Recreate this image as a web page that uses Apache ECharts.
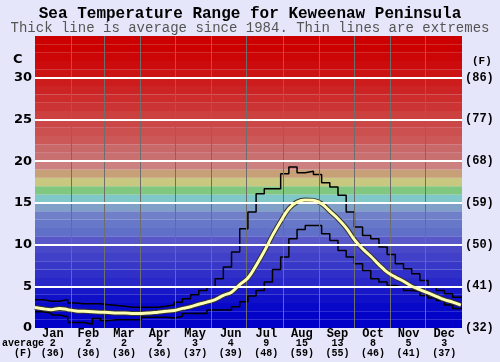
<!DOCTYPE html>
<html><head><meta charset="utf-8">
<script src="https://cdn.jsdelivr.net/npm/echarts@6/dist/echarts.min.js"></script>
<style>html,body{margin:0;padding:0;background:#e6e6fa;}#c{width:500px;height:362px;}</style>
</head><body><div id="c"></div>
<script>
const months = ['Jan','Feb','Mar','Apr','May','Jun','Jul','Aug','Sep','Oct','Nov','Dec'];
const monthAvgC = [2,2,2,2,3,4,9,15,13,8,5,3];
const monthAvgF = [36,36,36,36,37,39,48,59,55,46,41,37];
const monthBoundaryDays = [31,59,90,120,151,181,212,243,273,304,334];
const gridLineValuesC = [5,10,15,20,25,30];
const rightTickLabelsF = ['(32)','(41)','(50)','(59)','(68)','(77)','(86)'];

// weekly extremes (°C), one value per week starting Jan 1
const weeklyMax = [3.4,3.2,3.2,3.4,3.0,2.9,2.9,2.9,2.8,2.7,2.6,2.5,2.5,2.5,2.5,2.6,
  2.75,3.1,3.5,4.0,4.5,4.9,5.9,7.3,9.1,11.9,13.9,16.1,16.7,16.7,18.5,19.3,18.6,18.8,18.4,17.4,
  16.9,15.9,13.9,12.1,11.1,10.7,9.7,8.8,7.7,7.1,6.5,5.7,4.9,4.5,4.1,3.7];
const weeklyMin = [1.95,1.8,1.55,1.35,0.65,0.65,0.45,1.15,0.9,1.0,1.0,1.0,1.0,1.3,1.3,1.3,
  1.2,1.4,1.75,1.75,1.75,2.15,2.15,2.15,2.55,3.15,3.85,4.5,5.5,7.0,8.5,10.7,11.8,12.3,12.3,11.3,
  10.5,9.3,8.5,7.7,6.9,5.9,5.5,5.1,4.9,4.5,4.4,3.9,3.6,3.3,2.75,2.35];
// average (°C) sampled every 7 days from Jan 1
const weeklyAvg = [2.45,2.3,2.2,2.35,2.2,2.05,2.0,1.95,1.9,1.85,1.8,1.8,1.75,1.75,1.8,1.9,
  2.0,2.1,2.35,2.55,2.85,3.1,3.4,3.9,4.3,5.2,6.0,7.5,9.2,11.1,12.8,14.3,15.1,15.35,15.3,14.9,
  14.0,13.1,12.0,10.6,9.5,8.6,7.6,6.7,6.1,5.6,5.0,4.6,4.2,3.8,3.4,3.1,2.75];

// background band colours, from 0-1°C up to 34-35°C
const bandColors = ['#0000c8','#0404c8','#0808c8','#1010c8','#1818c8',
  '#2828c8','#3030c8','#3838c8','#4040c8','#4848c8',
  '#5858c8','#6070c8','#6878c8','#7080c8','#80a0c8',
  '#80c8c8','#80c880','#c8c880','#c8a078','#cc8080',
  '#c87070','#c86868','#cc5858','#cc5050','#cc4848',
  '#cc4040','#cc3434','#cc2c2c','#cc2424','#cc1c1c',
  '#cc1414','#cc0c0c','#cc0606','#cc0000','#cc0000'];

const stepData = arr => arr.map((v,i)=>[i*7,v]).concat([[365, arr[arr.length-1]]]);
const avgData = weeklyAvg.map((v,i)=>[i*7,v]);

const chart = echarts.init(document.getElementById('c'), null, {renderer:'canvas'});
const mono = 'Liberation Mono';
chart.setOption({
  animation:false,
  backgroundColor:'#e6e6fa',
  title:[{text:'Sea Temperature Range for Keweenaw Peninsula', left:'center', top:1,
    textStyle:{fontFamily:mono, fontWeight:'bold', fontSize:16, color:'#000'}},
    {text:'Thick line is average since 1984. Thin lines are extremes', left:'center', top:16,
    textStyle:{fontFamily:mono, fontWeight:'normal', fontSize:14, color:'#555'}}],
  grid:{left:35, right:38, top:36, bottom:34},
  xAxis:[{type:'value', min:0, max:365, show:false},
    {type:'category', data:months, position:'bottom', axisLine:{show:false}, axisTick:{show:false},
     splitLine:{show:false},
     axisLabel:{interval:0, margin:1, color:'#000',
       formatter:(v,i)=>'{m|'+v+'}\n{a|'+monthAvgC[i]+'}\n{f|('+monthAvgF[i]+')}',
       rich:{m:{fontFamily:mono, fontWeight:'bold', fontSize:12, lineHeight:10, color:'#000'},
             a:{fontFamily:mono, fontWeight:'bold', fontSize:10, lineHeight:9, color:'#000'},
             f:{fontFamily:mono, fontWeight:'bold', fontSize:10, lineHeight:10, color:'#000'}}}}],
  yAxis:[{type:'value', min:0, max:35, interval:5, position:'left', axisLine:{show:false}, axisTick:{show:false},
     splitLine:{show:false},
     axisLabel:{formatter:v=>v===35?'':String(v), fontFamily:'DejaVu Sans', fontWeight:'bold', fontSize:13, color:'#000', margin:3}},
    {type:'value', min:0, max:35, interval:5, position:'right', axisLine:{show:false}, axisTick:{show:false},
     splitLine:{show:false},
     axisLabel:{formatter:v=>v===35?'':rightTickLabelsF[v/5], fontFamily:mono, fontWeight:'bold', fontSize:12, color:'#000', margin:3}}],
  graphic:[
    {type:'text', left:13, top:53, style:{text:'C', font:'bold 13px "DejaVu Sans"', fill:'#000'}},
    {type:'text', left:472, top:56, style:{text:'(F)', font:'bold 11px "Liberation Mono"', fill:'#000'}},
    {type:'text', left:2, top:338, style:{text:'average', font:'bold 10px "Liberation Mono"', fill:'#000'}},
    {type:'text', left:14, top:348, style:{text:'(F)', font:'bold 10px "Liberation Mono"', fill:'#000'}}
  ],
  series:[
    {type:'line', data:[], z:1, silent:true,
     markArea:{silent:true, itemStyle:{opacity:1},
       data:bandColors.map((c,i)=>[{yAxis:i, itemStyle:{color:c, opacity:1}},{yAxis:i+1}])}},
    {type:'line', data:[], z:2, silent:true,
     markLine:{silent:true, symbol:'none', label:{show:false}, animation:false,
       data:monthBoundaryDays.map(d=>({xAxis:d, lineStyle:{color:'#6e6e6e', width:1, type:'solid'}}))
         .concat(gridLineValuesC.map(v=>({yAxis:v, lineStyle:{color:'#ffffff', width:2, type:'solid'}})))}},
    {type:'line', data:stepData(weeklyMax), step:'end', showSymbol:false, z:3,
     lineStyle:{color:'#000', width:1.5}},
    {type:'line', data:stepData(weeklyMin), step:'end', showSymbol:false, z:3,
     lineStyle:{color:'#000', width:1.5}},
    {type:'line', data:avgData, smooth:0.4, showSymbol:false, z:4,
     lineStyle:{color:'#333', width:5}},
    {type:'line', data:avgData, smooth:0.4, showSymbol:false, z:5,
     lineStyle:{color:'#ffffb0', width:3}}
  ]
});
</script></body></html>
